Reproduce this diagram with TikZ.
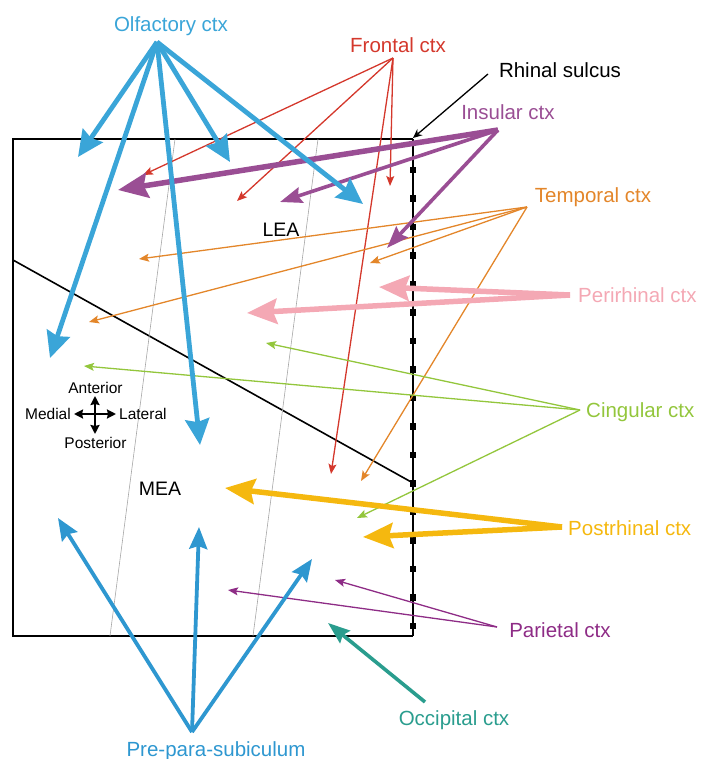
\documentclass[tikz,border=0pt]{standalone}
\usepackage{fontspec}
\setmainfont{Liberation Sans}
\usetikzlibrary{arrows.meta}
\definecolor{colf}{HTML}{3AA5D8}
\definecolor{cpre}{HTML}{2E97D0}
\definecolor{cfro}{HTML}{D4382C}
\definecolor{cins}{HTML}{9A4E94}
\definecolor{ctem}{HTML}{E3862A}
\definecolor{cper}{HTML}{F4A8B4}
\definecolor{ccin}{HTML}{93C63C}
\definecolor{cpos}{HTML}{F5B80F}
\definecolor{cpar}{HTML}{8E2C86}
\definecolor{cocc}{HTML}{2A9D8E}
\begin{document}
\begin{tikzpicture}[x=1pt,y=-1pt,
  lbl/.style={font=\fontsize{20.5}{24}\selectfont, inner sep=0pt, anchor=base},
  area/.style={font=\fontsize{19.5}{23}\selectfont, inner sep=0pt, anchor=base},
  cmp/.style={font=\fontsize{15.5}{18}\selectfont, inner sep=0pt, anchor=base west},
  thin/.style={line width=1.3pt, -{Stealth[length=10pt,width=8pt,inset=2pt]}},
  olfa/.style={colf, line width=4.8pt, -{Stealth[length=26pt,width=24pt,inset=3pt]}},
  prea/.style={cpre, line width=3.8pt, -{Stealth[length=22pt,width=18pt,inset=3pt]}},
  bigh/.style={line width=5.5pt, -{Stealth[length=30pt,width=25pt,inset=4pt]}},
  medh/.style={line width=3.6pt, -{Stealth[length=22pt,width=16pt,inset=3pt]}},
  cmpa/.style={line width=2.2pt, {Stealth[length=9pt,width=9pt,inset=1pt]}-{Stealth[length=9pt,width=9pt,inset=1pt]}},
  sq/.style={fill=black, minimum size=6.5pt, inner sep=0pt},
  guide/.style={gray!70, line width=0.6pt}
]
\useasboundingbox (0,0) rectangle (702,759);
% box
\draw[line width=2pt] (413,139) -- (13,139) -- (13,636) -- (413,636);
\draw[line width=2.2pt] (413,139) -- (413,636);
\foreach \yy in {170,198.5,227,255.5,284,312.5,341,369.5,398,426.5,455,483.5,512,540.5,569,597.5,626}
  \node[sq] at (413,\yy) {};
\draw[line width=1.6pt] (13,260) -- (413,483);
\draw[guide] (175,139) -- (110,636);
\draw[guide] (318,139) -- (253,636);

% labels
\node[lbl, colf] (olfl) at (171,32) {Olfactory ctx};
\node[lbl, cfro] (frol) at (398,53) {Frontal ctx};
\node[lbl] (rhil) at (560,78) {Rhinal sulcus};
\node[lbl, cins] (insl) at (508,120) {Insular ctx};
\node[lbl, ctem] (teml) at (593,203) {Temporal ctx};
\node[lbl, cper, anchor=base west] (perl) at (578,302) {Perirhinal ctx};
\node[lbl, ccin, anchor=base west] (cinl) at (586,417) {Cingular ctx};
\node[lbl, cpos, anchor=base west] (posl) at (568,535) {Postrhinal ctx};
\node[lbl, cpar] (parl) at (560,637) {Parietal ctx};
\node[lbl, cocc] (occl) at (454,725) {Occipital ctx};
\node[lbl, cpre] (prel) at (216,756) {Pre-para-subiculum};
\node[area] (lea) at (281,236) {LEA};
\node[area] (mea) at (160,495) {MEA};
\node[cmp, anchor=base] (ant) at (95.5,393) {Anterior};
\node[cmp, anchor=base east] (med) at (71,419) {Medial};
\node[cmp] (lat) at (119,419) {Lateral};
\node[cmp, anchor=base] (pos) at (95.5,448) {Posterior};
\coordinate (cn) at (95,396);
\coordinate (cs) at (95,434);
\coordinate (cw) at (74,414);
\coordinate (ce) at (116,414);
\draw[cmpa] (cn) -- (cs);
\draw[cmpa] (cw) -- (ce);

% sources
\coordinate (so) at (157,42);
\coordinate (sf) at (393,58);
\coordinate (sr) at (488,74);
\coordinate (si) at (498,130);
\coordinate (st) at (527,207);
\coordinate (sp) at (570,295);
\coordinate (sc) at (580,410);
\coordinate (spo) at (562,527);
\coordinate (spa) at (497,627);
\coordinate (soc) at (425,702);
\coordinate (spr) at (192,732);

% targets
\coordinate (o1) at (78,157);
\coordinate (o2) at (230,162);
\coordinate (o3) at (363,204);
\coordinate (o4) at (50,358);
\coordinate (o5) at (200,445);
\coordinate (f1) at (143,175);
\coordinate (f2) at (237,201);
\coordinate (f3) at (390,186);
\coordinate (f4) at (331,474);
\coordinate (rt) at (413,138);
\coordinate (i1) at (118,190);
\coordinate (i2) at (280,202);
\coordinate (i3) at (387,248);
\coordinate (t1) at (139,259);
\coordinate (t2) at (89,322);
\coordinate (t3) at (370,263);
\coordinate (t4) at (361,481);
\coordinate (p1) at (379,287);
\coordinate (p2) at (247,313);
\coordinate (c1) at (266,343);
\coordinate (c2) at (84,366);
\coordinate (c3) at (357,518);
\coordinate (q1) at (225,488);
\coordinate (q2) at (363,537);
\coordinate (a1) at (335,580);
\coordinate (a2) at (228,590);
\coordinate (oc) at (328,623);
\coordinate (r1) at (58,518);
\coordinate (r2) at (199,527);
\coordinate (r3) at (312,559);

% connectors
\draw[thin, cfro] (sf) -- (f1);
\draw[thin, cfro] (sf) -- (f2);
\draw[thin, cfro] (sf) -- (f3);
\draw[thin, cfro] (sf) -- (f4);
\draw[thin, ctem] (st) -- (t1);
\draw[thin, ctem] (st) -- (t2);
\draw[thin, ctem] (st) -- (t3);
\draw[thin, ctem] (st) -- (t4);
\draw[thin, ccin] (sc) -- (c1);
\draw[thin, ccin] (sc) -- (c2);
\draw[thin, ccin] (sc) -- (c3);
\draw[thin, cpar] (spa) -- (a1);
\draw[thin, cpar] (spa) -- (a2);
\draw[line width=1.3pt, -{Stealth[length=9pt,width=8pt]}] (sr) -- (rt);
\draw[bigh, cins] (si) -- (i1);
\draw[medh, cins] (si) -- (i2);
\draw[medh, cins] (si) -- (i3);
\draw[bigh, cper] (sp) -- (p1);
\draw[bigh, cper] (sp) -- (p2);
\draw[bigh, cpos] (spo) -- (q1);
\draw[bigh, cpos] (spo) -- (q2);
\draw[medh, cocc] (soc) -- (oc);
\draw[olfa] (so) -- (o1);
\draw[olfa] (so) -- (o2);
\draw[olfa] (so) -- (o3);
\draw[olfa] (so) -- (o4);
\draw[olfa] (so) -- (o5);
\draw[prea] (spr) -- (r1);
\draw[prea] (spr) -- (r2);
\draw[prea] (spr) -- (r3);
\end{tikzpicture}
\end{document}
